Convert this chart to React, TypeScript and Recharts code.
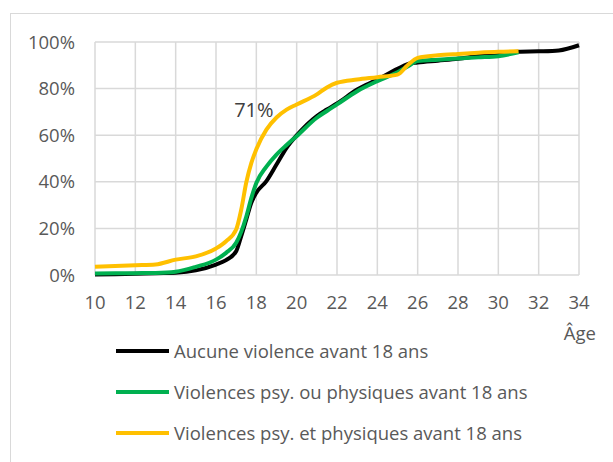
import React from 'react';
import { LineChart, Line, XAxis, YAxis, CartesianGrid, Legend, LabelList } from 'recharts';

const ages = [10, 11, 12, 13, 14, 15, 16, 16.5, 17, 17.25, 17.5, 17.75, 18, 18.5, 19, 19.5, 20, 21, 21.5, 22, 23, 24, 25, 25.5, 26, 27, 28, 29, 30, 31, 32, 33, 34];
const aucune = [0.2, 0.3, 0.5, 0.8, 1.0, 2.0, 4.5, 6.4, 10.2, 16.7, 23.8, 31, 35.3, 40.3, 47.4, 54.6, 59.9, 68.2, 71, 73.6, 79.6, 83.9, 88.5, 90.5, 91.2, 92, 92.8, 94, 95, 95.8, 96, 96.4, 98.6];
const psyOu = [0.6, 0.7, 0.8, 0.9, 1.4, 3.5, 6.6, 9.5, 13.8, 18.5, 25, 33, 39.5, 46.5, 51.7, 55.8, 59.6, 67.5, 70.4, 73.2, 78.9, 83.2, 87, 89.5, 91.8, 92.4, 92.9, 93.4, 93.9, 95.6, null, null, null];
const psyEt = [3.5, 3.9, 4.2, 4.5, 6.6, 8, 11.4, 14.5, 19.5, 28, 39.7, 48, 54, 62.4, 67.6, 71, 73.2, 77.5, 80.5, 82.5, 83.9, 84.9, 86, 90, 93.2, 94.3, 94.9, 95.4, 95.8, 96, null, null, null];

const xTicks = [10, 12, 14, 16, 18, 20, 22, 24, 26, 28, 30, 32, 34];
const yTicks = [0, 20, 40, 60, 80, 100];
const seriesNames = [
  'Aucune violence avant 18 ans',
  'Violences psy. ou physiques avant 18 ans',
  'Violences psy. et physiques avant 18 ans',
];
const labelAge = 19.5;

const data = ages.map((a, i) => ({ age: a, aucune: aucune[i], psyOu: psyOu[i], psyEt: psyEt[i] }));
const labelIndex = ages.indexOf(labelAge);

const FONT = '"Open Sans", "Noto Sans", sans-serif';

const renderLegend = (props: any) => {
  const payload = [...(props.payload || [])].sort(
    (a: any, b: any) => seriesNames.indexOf(a.value) - seriesNames.indexOf(b.value)
  );
  return (
    <div style={{ fontFamily: FONT }}>
      {payload.map((p: any, i: number) => (
        <div key={i} style={{ display: 'flex', alignItems: 'center', height: 41 }}>
          <div style={{ width: 53, height: 4, background: p.color, marginRight: 5 }} />
          <span style={{ fontSize: 18.5, color: '#595959', whiteSpace: 'nowrap' }}>{p.value}</span>
        </div>
      ))}
    </div>
  );
};

const AgeLabel = (props: any) => {
  const { viewBox } = props;
  return (
    <text x={viewBox.x + viewBox.width + 17} y={340} textAnchor="end" fill="#595959" fontSize={18.5} fontFamily={FONT}>
      Âge
    </text>
  );
};

export default function App() {
  return (
    <div style={{ position: 'absolute', left: 0, top: 0, width: 613, height: 462, background: '#fff', overflow: 'hidden' }}>
      <div style={{ position: 'absolute', left: 10, top: 13, width: 700, height: 600, borderLeft: '1.5px solid #d9d9d9', borderTop: '1.5px solid #d9d9d9' }} />
      <LineChart width={613} height={462} data={data} margin={{ top: 42, right: 34, left: 0, bottom: 157 }}>
        <CartesianGrid stroke="#d9d9d9" strokeWidth={1.5} />
        <XAxis
          dataKey="age"
          type="number"
          domain={[10, 34]}
          ticks={xTicks}
          axisLine={false}
          tickLine={false}
          tickSize={0}
          tickMargin={21}
          height={30}
          interval={0}
          tick={{ fill: '#595959', fontSize: 18.5, fontFamily: FONT }}
          label={<AgeLabel />}
        />
        <YAxis
          type="number"
          domain={[0, 100]}
          ticks={yTicks}
          axisLine={false}
          tickLine={false}
          tickSize={0}
          tickMargin={20}
          width={95}
          interval={0}
          tickFormatter={(v: number) => `${v}%`}
          tick={{ fill: '#595959', fontSize: 18.5, fontFamily: FONT }}
        />
        <Legend
          layout="horizontal"
          verticalAlign="middle"
          align="center"
          content={renderLegend}
          wrapperStyle={{ position: 'absolute', left: 116, top: 330, width: 'auto', height: 'auto' }}
        />
        <Line type="monotone" dataKey="aucune" name={seriesNames[0]} stroke="#000000" strokeWidth={4} dot={false} isAnimationActive={false} connectNulls={false} />
        <Line type="monotone" dataKey="psyOu" name={seriesNames[1]} stroke="#00b050" strokeWidth={4} dot={false} isAnimationActive={false} connectNulls={false} />
        <Line type="monotone" dataKey="psyEt" name={seriesNames[2]} stroke="#ffc000" strokeWidth={4} dot={false} isAnimationActive={false} connectNulls={false}>
          <LabelList
            dataKey="psyEt"
            content={(p: any) =>
              p.index === labelIndex ? (
                <text x={p.x - 13} y={p.y} textAnchor="end" dominantBaseline="central" fill="#404040" fontSize={20} fontFamily={FONT}>
                  {`${Math.round(p.value)}%`}
                </text>
              ) : null
            }
          />
        </Line>
      </LineChart>
    </div>
  );
}
